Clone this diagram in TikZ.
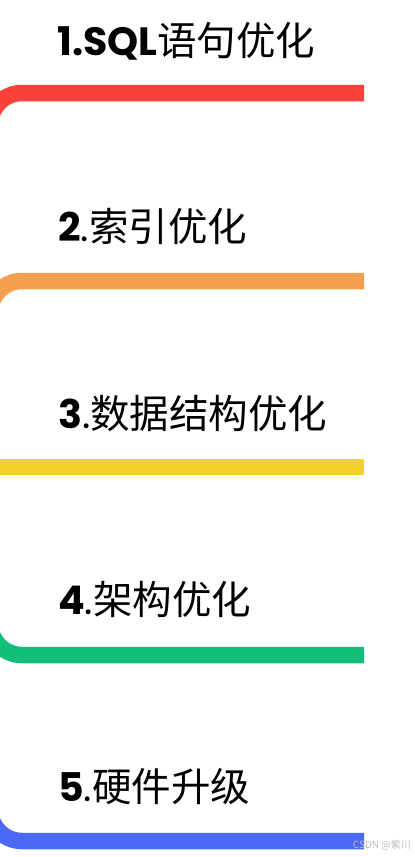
\documentclass[tikz,border=0pt]{standalone}
\usepackage{fontspec}
\setmainfont{Poppins}
\newfontfamily\cjk{Noto Sans CJK SC}
\definecolor{cred}{RGB}{250,66,58}
\definecolor{corange}{RGB}{245,160,80}
\definecolor{cyellow}{RGB}{242,210,40}
\definecolor{cgreen}{RGB}{18,190,120}
\definecolor{cblue}{RGB}{75,105,245}
\definecolor{cwm}{RGB}{190,190,190}
\begin{document}
\begin{tikzpicture}[x=1pt,y=-1pt,
  bar/.style={line width=16.5pt, rounded corners=32pt},
  lab/.style={anchor=base west, inner sep=0pt, text=black, font=\fontsize{39.5}{42}\selectfont}]
\useasboundingbox (0,0) rectangle (415,857);
\clip (0,0) rectangle (415,857);
\fill[white] (0,0) rectangle (415,857);
% bars
\draw[bar, cred]    (364,93)  -- (-10,93)  -- (-10,200);
\draw[bar, corange] (364,281) -- (-10,281) -- (-10,400);
\draw[bar, cyellow] (364,467) -- (-10,467);
\draw[bar, cgreen]  (364,655) -- (-10,655) -- (-10,540);
\draw[bar, cblue]   (364,841) -- (-10,841) -- (-10,720);
% labels
\node[lab] (t1) at (57,55)  {{\bfseries 1.SQL}{\cjk 语句优化}};
\node[lab] (t2) at (58,241.5) {{\bfseries 2}.{\cjk 索引优化}};
\node[lab] (t3) at (58,428) {{\bfseries 3}.{\cjk 数据结构优化}};
\node[lab] (t4) at (58,614.5) {{\bfseries 4}.{\cjk 架构优化}};
\node[lab] (t5) at (58,801) {{\bfseries 5}.{\cjk 硬件升级}};
\node[anchor=east, inner sep=0pt, text=cwm, font=\fontsize{10}{11}\selectfont\cjk] (wm) at (411,845) {CSDN @紫川};
\end{tikzpicture}
\end{document}
